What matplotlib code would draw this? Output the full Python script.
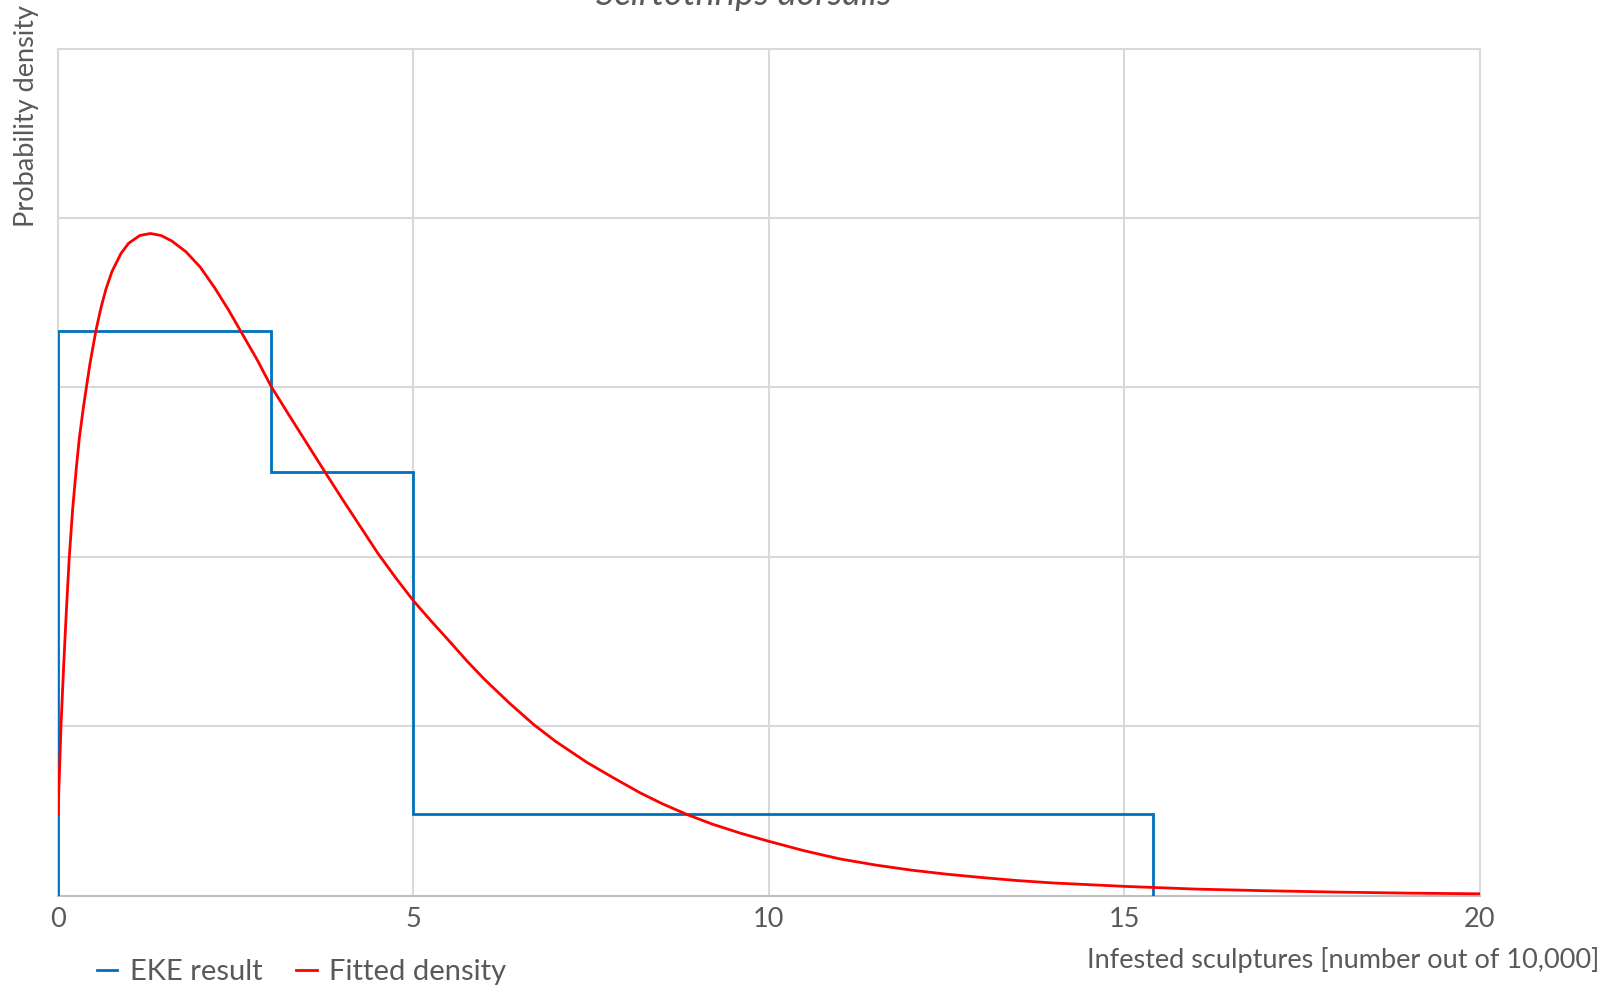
import numpy as np
import matplotlib
matplotlib.use("Agg")
import matplotlib.pyplot as plt

# EKE result: interval edges and probability mass in each interval
eke_edges = [0, 3, 5, 15.4]
eke_prob = [0.5, 0.25, 0.25]

# fitted density
fit_x = [0.0, 0.02, 0.042, 0.08, 0.12, 0.159, 0.206, 0.257, 0.30, 0.36,
         0.45, 0.534, 0.605, 0.675, 0.76, 0.886, 0.993, 1.15, 1.30, 1.45,
         1.60, 1.80, 2.00, 2.20, 2.40, 2.564, 2.80, 3.00, 3.25, 3.50,
         3.75, 4.00, 4.25, 4.50, 4.75, 5.00, 5.25, 5.50, 5.75, 6.00,
         6.35, 6.69, 7.00, 7.44, 7.80, 8.19, 8.50, 8.85, 9.20, 9.60,
         10.0, 10.5, 11.0, 11.5, 12.0, 12.5, 13.0, 13.5, 14.0, 15.0,
         16.0, 17.0, 18.0, 19.0, 20.0]
fit_y = [0.0240, 0.0360, 0.0500, 0.0680, 0.0850, 0.1000, 0.1140, 0.1260, 0.1350, 0.1445,
         0.1570, 0.1668, 0.1735, 0.1790, 0.1842, 0.1895, 0.1925, 0.1948, 0.1954, 0.1948,
         0.1932, 0.1900, 0.1855, 0.1795, 0.1728, 0.1668, 0.1582, 0.1502, 0.1418, 0.1335,
         0.1252, 0.1170, 0.1090, 0.1010, 0.0938, 0.0870, 0.0810, 0.0752, 0.0693, 0.0638,
         0.0568, 0.0505, 0.0455, 0.0393, 0.0349, 0.0303, 0.0271, 0.0239, 0.0211, 0.0184,
         0.0160, 0.0132, 0.0108, 0.0090, 0.0075, 0.0063, 0.0053, 0.0044, 0.0037, 0.0027,
         0.0019, 0.0014, 0.0010, 0.0007, 0.0005]

x_ticks = [0, 5, 10, 15, 20]

grey = "#595959"
grid_col = "#D9D9D9"
plt.rcParams["font.family"] = ["Lato", "DejaVu Sans"]

W, H = 1610, 989
fig = plt.figure(figsize=(W / 100, H / 100), dpi=100)
ax = fig.add_axes([58 / W, 1 - 895.5 / H, (1479.6 - 58) / W, (895.5 - 48.5) / H])

heights = np.array(eke_prob) / np.diff(eke_edges)
ax.stairs(heights, eke_edges, baseline=0, color="#0070C0", lw=2.0,
          label="EKE result", zorder=3)
ax.plot(fit_x, fit_y, color="#FF0000", lw=2.0, label="Fitted density", zorder=4,
        solid_joinstyle="round")

ax.set_xlim(0, 20)
ax.set_ylim(0, 0.25)
ax.set_xticks(x_ticks)
ax.set_xticklabels([str(t) for t in x_ticks])
ax.set_yticks(np.arange(0, 0.26, 0.05))
ax.set_yticklabels([])
ax.tick_params(axis="both", length=0, labelsize=19.5, labelcolor=grey)
ax.tick_params(axis="x", pad=8)
ax.grid(True, color=grid_col, lw=1.5, zorder=0)
ax.set_axisbelow(True)
for side in ["top", "right", "left"]:
    ax.spines[side].set_color(grid_col)
    ax.spines[side].set_linewidth(1.5)
ax.spines["bottom"].set_color("#BFBFBF")
ax.spines["bottom"].set_linewidth(1.5)

fig.text(744 / W, 1 - 5 / H, "Scirtothrips dorsalis", style="italic",
         fontsize=26, color=grey, ha="center", va="baseline")
fig.text(27 / W, 1 - 5 / H, "Probability density", rotation=90,
         fontsize=19.5, color=grey, ha="center", va="top")
fig.text(1599 / W, 1 - 960 / H, "Infested sculptures [number out of 10,000]",
         fontsize=19.5, color=grey, ha="right", va="center")

fig.legend(loc="center left", bbox_to_anchor=(97 / W, 1 - 972 / H),
           ncol=2, frameon=False, fontsize=21, labelcolor=grey,
           handlelength=0.7, handletextpad=0.42, columnspacing=1.16,
           borderpad=0, borderaxespad=0)

fig.savefig("out.png", dpi=100, facecolor="white")
